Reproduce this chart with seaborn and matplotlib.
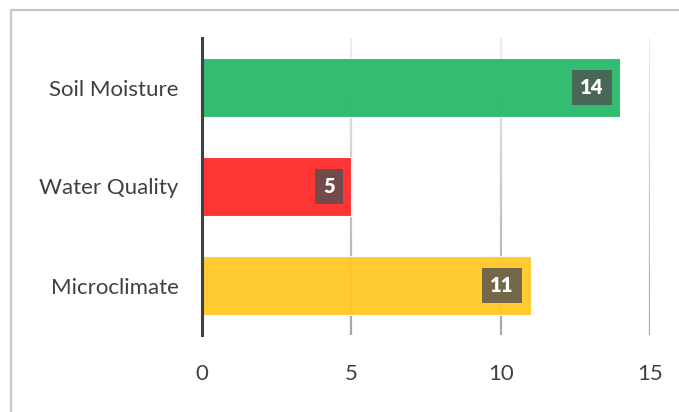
import numpy as np
import pandas as pd
import seaborn as sns
from matplotlib import pyplot as plt

# -------- data --------
categories = ["Soil Moisture", "Water Quality", "Microclimate"]
values = [14, 5, 11]
bar_colors = ["#27ba6a", "#ff2a2a", "#ffc926"]
x_ticks = [0, 5, 10, 15]
# ----------------------

sns.set_style("white")
plt.rcParams["font.family"] = ["Lato", "DejaVu Sans"]

df = pd.DataFrame({"category": categories, "value": values})

fig = plt.figure(figsize=(6.79, 4.12), dpi=100)
ax = fig.add_axes([202 / 679, 1 - 335 / 412, 448 / 679, 297 / 412])

# gridlines with a light-to-dark fade (top light, bottom dark), behind the bars
n_seg = 24
for xt in x_ticks[1:]:
    for i in range(n_seg):
        shade = 0.66 + 0.27 * (i / (n_seg - 1))
        ax.axvline(xt, ymin=i / n_seg, ymax=(i + 1) / n_seg,
                   color=str(shade), lw=1.6, zorder=0)

sns.barplot(data=df, x="value", y="category", hue="category",
            palette=bar_colors, orient="h", width=0.6, legend=False,
            saturation=1, alpha=0.95, edgecolor="white", linewidth=0.8,
            ax=ax, zorder=2)

for i, v in enumerate(values):
    ax.annotate(str(v), xy=(v, i), xytext=(-12, 0), textcoords="offset points",
                ha="right", va="center", color="white", fontsize=14.5,
                fontweight="heavy", zorder=4,
                bbox=dict(boxstyle="square,pad=0.42", fc="#505050",
                          ec="none", alpha=0.8))

ax.set_xlim(0, 15)
ax.set_ylim(2.5, -0.5)
ax.set_xticks(x_ticks)
ax.set_xlabel("")
ax.set_ylabel("")
ax.tick_params(axis="x", length=0, pad=21, labelsize=16, labelcolor="#404040")
ax.tick_params(axis="y", length=0, pad=17, labelsize=16, labelcolor="#404040")

for s in ["top", "right", "bottom"]:
    ax.spines[s].set_visible(False)
ax.spines["left"].set_color("#404040")
ax.spines["left"].set_linewidth(2.2)
ax.spines["left"].set_zorder(5)

# light outer frame of the chart area
frame = plt.Rectangle((11 / 679, -0.01), 1.0, 1 - 10 / 412 + 0.01,
                      transform=fig.transFigure, fill=False,
                      ec="#c8c8c8", lw=1.6)
fig.patches.append(frame)

plt.savefig("out.png", dpi=100)
